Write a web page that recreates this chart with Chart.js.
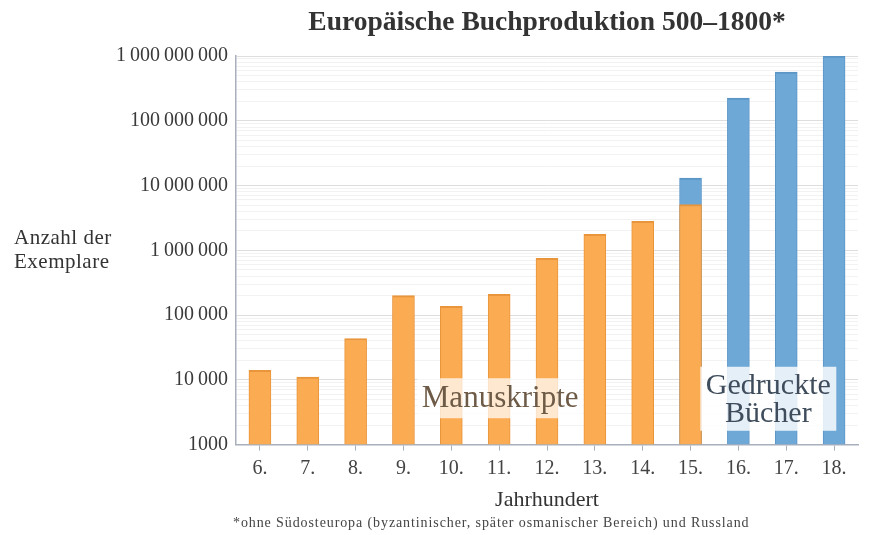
<!DOCTYPE html>
<html>
<head>
<meta charset="utf-8">
<script src="https://cdn.jsdelivr.net/npm/chart.js@4/dist/chart.umd.min.js"></script>
<style>
  html, body { margin: 0; padding: 0; background: #fff; }
  #wrap { width: 870px; height: 535px; }
</style>
</head>
<body>
<div id="wrap"><canvas id="my-chart" width="870" height="535"></canvas></div>
<script>
// centuries on the x axis
let centuries = ['6.', '7.', '8.', '9.', '10.', '11.', '12.', '13.', '14.', '15.', '16.', '17.', '18.'];
// copies produced
let manuscripts = [14000, 11000, 43500, 200000, 136000, 209000, 750000, 1770000, 2800000, 5100000, null, null, null];
let printed = [null, null, null, null, null, null, null, null, null, 13000000, 224000000, 565000000, 1000000000];
// decades shown on the y axis
let yDecades = [1000, 10000, 100000, 1000000, 10000000, 100000000, 1000000000];

let serif = "'Liberation Serif', 'DejaVu Serif', serif";

function formatNumber(v) {
  let s = String(Math.round(v));
  if (s.length <= 4) return s;
  return s.replace(/\B(?=(\d{3})+(?!\d))/g, '\u2009');
}

// all 1..9 x 10^k steps for the minor grid lines
function allLogTicks() {
  let out = [];
  for (let i = 0; i < yDecades.length; i++) {
    let d = yDecades[i];
    out.push({ value: d, major: true });
    if (i < yDecades.length - 1) {
      for (let m = 2; m <= 9; m++) out.push({ value: d * m, major: false });
    }
  }
  return out;
}

let textPlugin = {
  id: 'texts',
  afterDatasetsDraw(chart) {
    let ctx = chart.ctx;
    let x = chart.scales.x;
    let y = chart.scales.y;
    ctx.save();
    ctx.textAlign = 'center';
    ctx.textBaseline = 'middle';

    // Manuskripte box
    let mx = x.getPixelForValue(5);
    let my = y.getPixelForValue(5200);
    ctx.font = '31px ' + serif;
    ctx.fillStyle = 'rgba(255,255,255,0.72)';
    ctx.fillRect(mx - 82, my - 20, 166, 40);
    ctx.fillStyle = '#6e5b47';
    ctx.fillText('Manuskripte', mx + 1, my + 1);

    // Gedruckte Bücher box
    let gx = (x.getPixelForValue(10) + x.getPixelForValue(11)) / 2 + 6;
    let gy = y.getPixelForValue(5100);
    ctx.fillStyle = 'rgba(255,255,255,0.82)';
    ctx.fillRect(gx - 68, gy - 32, 136, 64);
    ctx.fillStyle = '#3e4c5b';
    ctx.font = '30px ' + serif;
    ctx.fillText('Gedruckte', gx, gy - 13);
    ctx.fillText('Bücher', gx, gy + 15);

    // y axis label, horizontal
    ctx.fillStyle = '#333';
    ctx.font = '21px ' + serif;
    ctx.textAlign = 'left';
    ctx.letterSpacing = '0.5px';
    ctx.fillText('Anzahl der', 14, 238);
    ctx.fillText('Exemplare', 14, 262);

    // footnote
    ctx.font = '14px ' + serif;
    ctx.letterSpacing = '0.9px';
    ctx.fillStyle = '#444';
    ctx.fillText('*ohne Südosteuropa (byzantinischer, später osmanischer Bereich) und Russland', 233, 523);
    ctx.restore();
  }
};

let chartcontext = document.getElementById('my-chart').getContext('2d');

let chartConfig = {
  type: 'bar',
  data: {
    labels: centuries,
    datasets: [{
      label: 'Manuskripte',
      data: manuscripts,
      backgroundColor: '#fbab52',
      borderColor: '#e9953c',
      borderWidth: { left: 1, right: 1, top: 2, bottom: 0 },
      barThickness: 22,
      order: 1
    }, {
      label: 'Gedruckte Bücher',
      data: printed,
      backgroundColor: '#6ea8d7',
      borderColor: '#5c96c7',
      borderWidth: { left: 1, right: 1, top: 2, bottom: 0 },
      barThickness: 22,
      order: 2
    }]
  },
  options: {
    responsive: false,
    animation: false,
    layout: { padding: { left: 0, right: 12, top: 0, bottom: 22 } },
    datasets: { bar: { grouped: false } },
    plugins: {
      legend: { display: false },
      tooltip: { enabled: false },
      title: {
        display: true,
        fullSize: false,
        text: 'Europäische Buchproduktion 500–1800*',
        color: '#333',
        font: { family: serif, size: 27.5, weight: 'bold' },
        padding: { top: 6, bottom: 17 }
      }
    },
    scales: {
      x: {
        grid: { drawOnChartArea: false, tickLength: 6, color: '#a8b0bb', offset: false },
        border: { color: '#a8b0bb', width: 1.5 },
        ticks: { color: '#444', font: { family: serif, size: 20 }, padding: 6 },
        title: {
          display: true,
          text: 'Jahrhundert',
          color: '#333',
          font: { family: serif, size: 22 },
          padding: { top: 0, bottom: 0 }
        }
      },
      y: {
        type: 'logarithmic',
        min: yDecades[0],
        max: yDecades[yDecades.length - 1],
        afterBuildTicks(scale) { scale.ticks = allLogTicks(); },
        afterFit(scale) { scale.width = 236; },
        grid: {
          color(c) { return c.tick && c.tick.major ? '#dedede' : '#f2f2f2'; },
          tickLength: 0
        },
        border: { color: '#a8b0bb', width: 1.5 },
        ticks: {
          color: '#3a3a3a',
          font: { family: serif, size: 20 },
          padding: 8,
          autoSkip: false,
          callback(v) { return yDecades.indexOf(v) >= 0 ? formatNumber(v) : ''; }
        }
      }
    }
  },
  plugins: [textPlugin]
};

let mychart = new Chart(chartcontext, chartConfig);
</script>
</body>
</html>
